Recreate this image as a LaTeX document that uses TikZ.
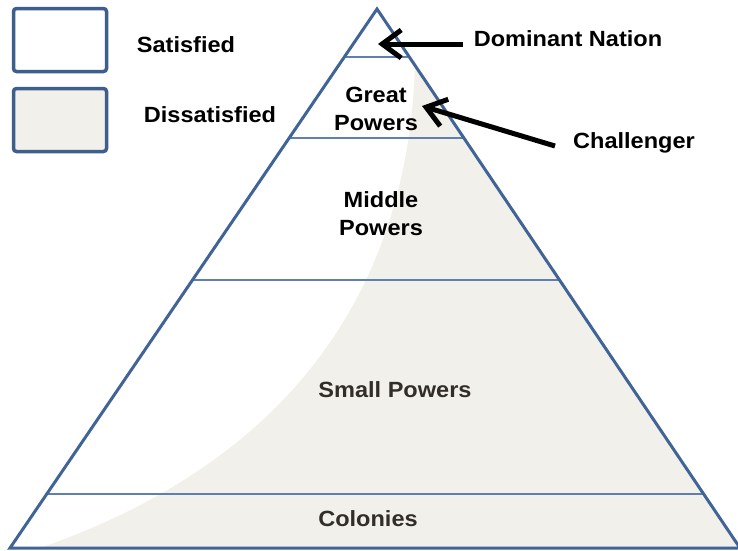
\documentclass[tikz,border=0pt]{standalone}
\usepackage{fontspec}
\setmainfont{Liberation Sans}[FakeStretch=1.07]
\usetikzlibrary{calc,arrows.meta}
\definecolor{edgeblue}{RGB}{65,100,150}
\definecolor{lineblue}{RGB}{95,128,175}
\definecolor{legblue}{RGB}{62,95,140}
\definecolor{beige}{RGB}{242,240,234}
\definecolor{darktxt}{RGB}{50,45,40}
\begin{document}
\begin{tikzpicture}[x=1pt,y=-1pt,
  lbl/.style={font=\fontsize{22}{28}\selectfont\bfseries, inner sep=0pt, align=center},
  legbox/.style={draw=legblue, line width=3.5pt, rounded corners=3pt, minimum width=93pt, minimum height=63pt, inner sep=0pt},
  tier/.style={draw=lineblue, line width=1.6pt},
  arr/.style={line width=5pt, -{Straight Barb[length=19pt, width=28pt]}}]
\useasboundingbox (0,0) rectangle (738,550);
\fill[white] (0,0) rectangle (738,550);
% triangle corners
\coordinate (apex) at (377,9);
\coordinate (bl) at (10,548);
\coordinate (br) at (740,548);
% dissatisfied shading
\fill[beige] (415,66) .. controls (410,220) and (350,440) .. (40,548) -- (br) -- cycle;
% tier lines
\draw[tier] ($(apex)!0.0891!(bl)$) -- ($(apex)!0.0891!(br)$);
\draw[tier] ($(apex)!0.2393!(bl)$) -- ($(apex)!0.2393!(br)$);
\draw[tier] ($(apex)!0.5028!(bl)$) -- ($(apex)!0.5028!(br)$);
\draw[tier] ($(apex)!0.8998!(bl)$) -- ($(apex)!0.8998!(br)$);
% triangle outline
\draw[edgeblue, line width=3pt, line join=miter] (apex) -- (bl) -- (br) -- cycle;
% legend
\node[legbox, fill=white] (satbox) at (60,40) {};
\node[legbox, fill=beige] (disbox) at (60,120) {};
\node[lbl] (sat) at (186,45) {Satisfied};
\node[lbl] (dis) at (210,115) {Dissatisfied};
% tier labels
\node[lbl] (great) at (376,109) {Great\\Powers};
\node[lbl] (middle) at (381,214) {Middle\\Powers};
\node[lbl, text=darktxt] (small) at (395,390) {Small Powers};
\node[lbl, text=darktxt] (colonies) at (368,519) {Colonies};
% callouts
\node[lbl] (dom) at (568,39) {Dominant Nation};
\node[lbl] (chal) at (634,143) {Challenger};
\coordinate (tipdom) at (378,44);
\coordinate (tipchal) at (422,106);
\coordinate (startchal) at (555,146);
\draw[arr] ([xshift=-11pt,yshift=-5pt]dom.west) -- (tipdom);
\draw[arr] (startchal) -- (tipchal);
\end{tikzpicture}
\end{document}
